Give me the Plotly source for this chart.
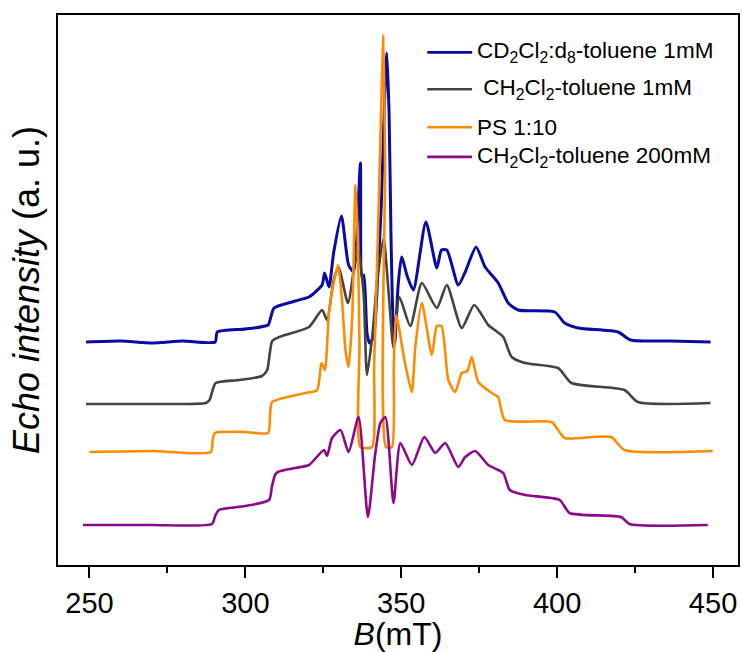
import plotly.graph_objects as go

# ---------------- data (B in mT, echo intensity in arbitrary units) ----------------
names = ["CD<sub>2</sub>Cl<sub>2</sub>:d<sub>8</sub>-toluene 1mM",
         " CH<sub>2</sub>Cl<sub>2</sub>-toluene 1mM",
         "PS 1:10",
         "CH<sub>2</sub>Cl<sub>2</sub>-toluene 200mM"]
colors = ["#0a0aa5", "#434343", "#ff8c00", "#8b0a8b"]

b_blue = [248.9, 260.0, 270.0, 280.0, 290.3, 291.0, 300.0, 307.3, 308.0, 309.2, 316.0, 320.4, 324.6,
          325.4, 326.8, 328.3, 330.8, 333.1, 334.7, 335.6, 336.9, 337.4, 338.0, 339.0, 339.8, 341.1,
          342.6, 343.6, 344.6, 345.4, 346.1, 346.7, 347.3, 347.9, 349.0, 350.1, 352.0, 353.9, 357.9,
          361.4, 362.9, 364.6, 368.3, 370.5, 374.0, 376.9, 381.1, 384.3, 387.5, 399.2, 402.4, 406.7,
          419.5, 423.6, 436.0, 449.2]
i_blue = [223, 224, 222, 224, 223, 233, 236, 240, 246, 257, 264, 268, 280,
          292, 278, 312, 349, 300, 293, 320, 402, 288, 290, 232, 222, 228,
          300, 360, 460, 512, 450, 330, 250, 222, 280, 308, 288, 275, 343,
          297, 315, 315, 280, 293, 318, 298, 282, 262, 255, 253, 242, 237,
          233, 225, 224, 223]

b_gray = [248.9, 270.0, 287.3, 288.5, 289.5, 290.5, 298.0, 305.3, 307.0, 307.8, 308.6, 310.8, 320.4,
          324.6, 326.2, 328.3, 329.9, 332.9, 336.0, 337.9, 339.0, 340.8, 342.2, 344.3, 346.0, 347.5,
          349.4, 352.9, 356.6, 361.4, 364.6, 369.4, 373.4, 377.9, 382.7, 385.4, 389.7, 400.3, 404.6,
          421.6, 425.9, 449.2]
i_gray = [161, 161, 162, 165, 175, 182, 185, 189, 195, 211, 224, 228, 238,
          255, 245, 285, 298, 262, 318, 272, 190, 232, 282, 327, 270, 217,
          268, 239, 282, 257, 280, 237, 260, 240, 228, 208, 202, 197, 182,
          175, 163, 162]

b_orange = [250.0, 270.0, 288.9, 289.5, 290.2, 300.0, 307.3, 307.9, 308.6, 319.3, 323.0, 324.4, 325.5,
            326.8, 328.3, 329.7, 331.0, 332.1, 333.1, 334.3, 335.3, 336.0, 336.6, 336.9, 340.6, 341.3,
            342.5, 343.5, 344.3, 344.8, 345.1, 347.0, 347.6, 348.3, 349.1, 351.0, 353.4, 354.5, 356.6,
            359.8, 361.4, 362.9, 365.1, 367.3, 369.4, 371.2, 372.6, 374.7, 379.0, 381.1, 383.2, 398.2,
            400.3, 402.4, 417.3, 421.6, 449.9]
i_orange = [113, 114, 113, 125, 132, 133, 132, 150, 163, 172, 175, 202, 195,
            252, 282, 300, 265, 215, 198, 250, 380, 330, 220, 118, 118, 200,
            330, 450, 530, 400, 118, 118, 200, 250, 240, 205, 173, 218, 262,
            210, 239, 239, 185, 173, 192, 194, 208, 183, 172, 168, 145, 143,
            135, 127, 128, 115, 114]

b_purple = [247.9, 270.0, 289.3, 290.3, 291.5, 300.0, 307.6, 308.5, 309.5, 310.4, 316.0, 320.4, 325.2,
            326.2, 327.8, 330.5, 333.1, 336.3, 339.3, 341.6, 343.3, 344.9, 347.5, 349.7, 353.4, 357.4,
            360.9, 364.1, 368.3, 370.5, 373.7, 377.9, 382.7, 384.8, 389.7, 400.8, 404.0, 420.5, 423.2,
            448.3]
i_purple = [40, 40, 41, 49, 55, 59, 65, 78, 90, 93, 97, 100, 115,
            109, 127, 135, 113, 148, 48, 110, 142, 148, 62, 122, 100, 128,
            112, 122, 98, 108, 114, 100, 92, 75, 70, 65, 52, 48, 41,
            40]

series = [(b_blue, i_blue), (b_gray, i_gray), (b_orange, i_orange), (b_purple, i_purple)]
widths = [3.0, 2.6, 2.6, 2.6]

# ---------------- figure ----------------
FONT = "Liberation Sans, Arial, sans-serif"
fig = go.Figure()
for (bx, iy), nm, c, w in zip(series, names, colors, widths):
    fig.add_trace(go.Scatter(x=bx, y=iy, mode="lines", name=nm,
                             line=dict(color=c, width=w, shape="spline", smoothing=0.6),
                             showlegend=False))

# legend drawn as line samples + labels (paper coordinates)
leg_y = [0.932, 0.865, 0.796, 0.742]
x0, x1 = 0.543, 0.609
for yy, nm, c in zip(leg_y, names, colors):
    fig.add_shape(type="line", xref="paper", yref="paper", x0=x0, x1=x1, y0=yy, y1=yy,
                  line=dict(color=c, width=2.6))
    fig.add_annotation(xref="paper", yref="paper", x=x1 + 0.004, y=yy, text=nm,
                       showarrow=False, xanchor="left", yanchor="middle",
                       font=dict(family=FONT, size=22.5, color="black"))

fig.update_layout(
    width=742, height=652,
    margin=dict(l=58, r=2, t=15, b=87),
    paper_bgcolor="white", plot_bgcolor="white",
    font=dict(family=FONT, color="black"),
    xaxis=dict(range=[239.9, 458.0], dtick=50, tick0=250, ticks="outside", ticklen=11,
               tickwidth=1.5, tickcolor="black", showline=True, linewidth=1.5,
               linecolor="black", mirror=True, showgrid=False, zeroline=False,
               tickfont=dict(family=FONT, size=29),
               minor=dict(dtick=25, tick0=250, ticks="outside", ticklen=6, tickwidth=1.5,
                          tickcolor="black", showgrid=False),
               title=dict(text="<i>B</i>(mT)", font=dict(family=FONT, size=32), standoff=2)),
    yaxis=dict(range=[0, 550], showticklabels=False, ticks="", showline=True, linewidth=1.5,
               linecolor="black", mirror=True, showgrid=False, zeroline=False,
               title=dict(text="<i>Echo intensity</i> (a. u.)", font=dict(family=FONT, size=36),
                          standoff=6)),
)

fig.write_html("out.html")
